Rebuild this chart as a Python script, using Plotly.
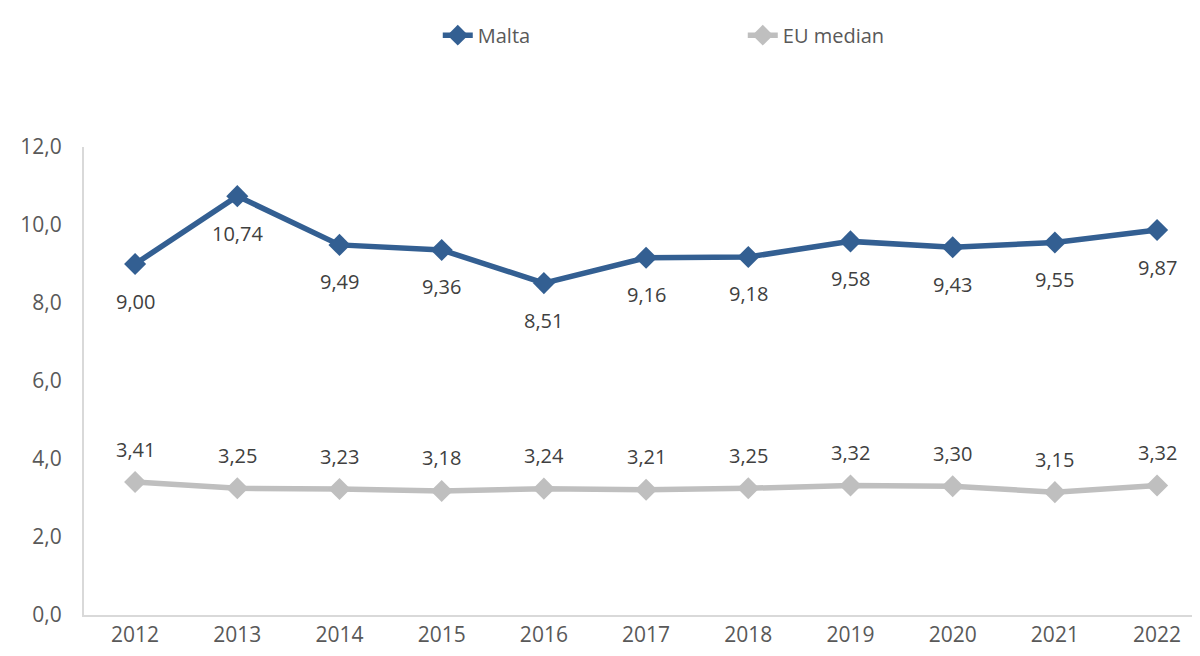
import plotly.graph_objects as go

years = ["2012", "2013", "2014", "2015", "2016", "2017", "2018", "2019", "2020", "2021", "2022"]
malta = [9.00, 10.74, 9.49, 9.36, 8.51, 9.16, 9.18, 9.58, 9.43, 9.55, 9.87]
eu_median = [3.41, 3.25, 3.23, 3.18, 3.24, 3.21, 3.25, 3.32, 3.30, 3.15, 3.32]

font_main = "Open Sans, Noto Sans, sans-serif"
grey_txt = "#404040"
blue = "#335F92"
grey_line = "#BFBFBF"

fig = go.Figure()
fig.add_trace(go.Scatter(
    x=years, y=malta, name="Malta", mode="lines+markers",
    line=dict(color=blue, width=5.5),
    marker=dict(symbol="diamond", size=17, color=blue),
))
fig.add_trace(go.Scatter(
    x=years, y=eu_median, name="EU median", mode="lines+markers",
    line=dict(color=grey_line, width=5.5),
    marker=dict(symbol="diamond", size=17, color=grey_line),
))

# data labels: Malta below, EU median above (x as category index)
for i, v in enumerate(malta):
    fig.add_annotation(x=i, y=v, text=f"{v:.2f}".replace(".", ","), showarrow=False,
                       yshift=-37, font=dict(size=20, color=grey_txt, family=font_main))
for i, v in enumerate(eu_median):
    fig.add_annotation(x=i, y=v, text=f"{v:.2f}".replace(".", ","), showarrow=False,
                       yshift=33, font=dict(size=20, color=grey_txt, family=font_main))

# page body has an 8px default margin, so margins are shifted to compensate
fig.update_layout(
    width=1200, height=656,
    margin=dict(l=76, r=8, t=139, b=49),
    paper_bgcolor="white", plot_bgcolor="white",
    separators=",.",
    font=dict(family=font_main, size=21, color="#595959"),
    legend=dict(orientation="h", x=0.317, xanchor="left", y=1.239, yanchor="middle",
                font=dict(size=20, color="#595959"),
                entrywidth=260, entrywidthmode="pixels"),
    showlegend=True,
)
fig.update_xaxes(
    type="category", range=[-0.5, 10.42], automargin=False,
    showline=True, linecolor="#D9D9D9", linewidth=2,
    showgrid=False, ticks="", tickfont=dict(size=21, color="#595959"),
)
fig.update_yaxes(
    range=[0, 12], dtick=2, tickformat=".1f", automargin=False,
    showline=True, linecolor="#D9D9D9", linewidth=2,
    showgrid=False, zeroline=False, ticks="", ticklabelstandoff=16,
    tickfont=dict(size=21, color="#595959"),
)

fig.write_html("out.html")
